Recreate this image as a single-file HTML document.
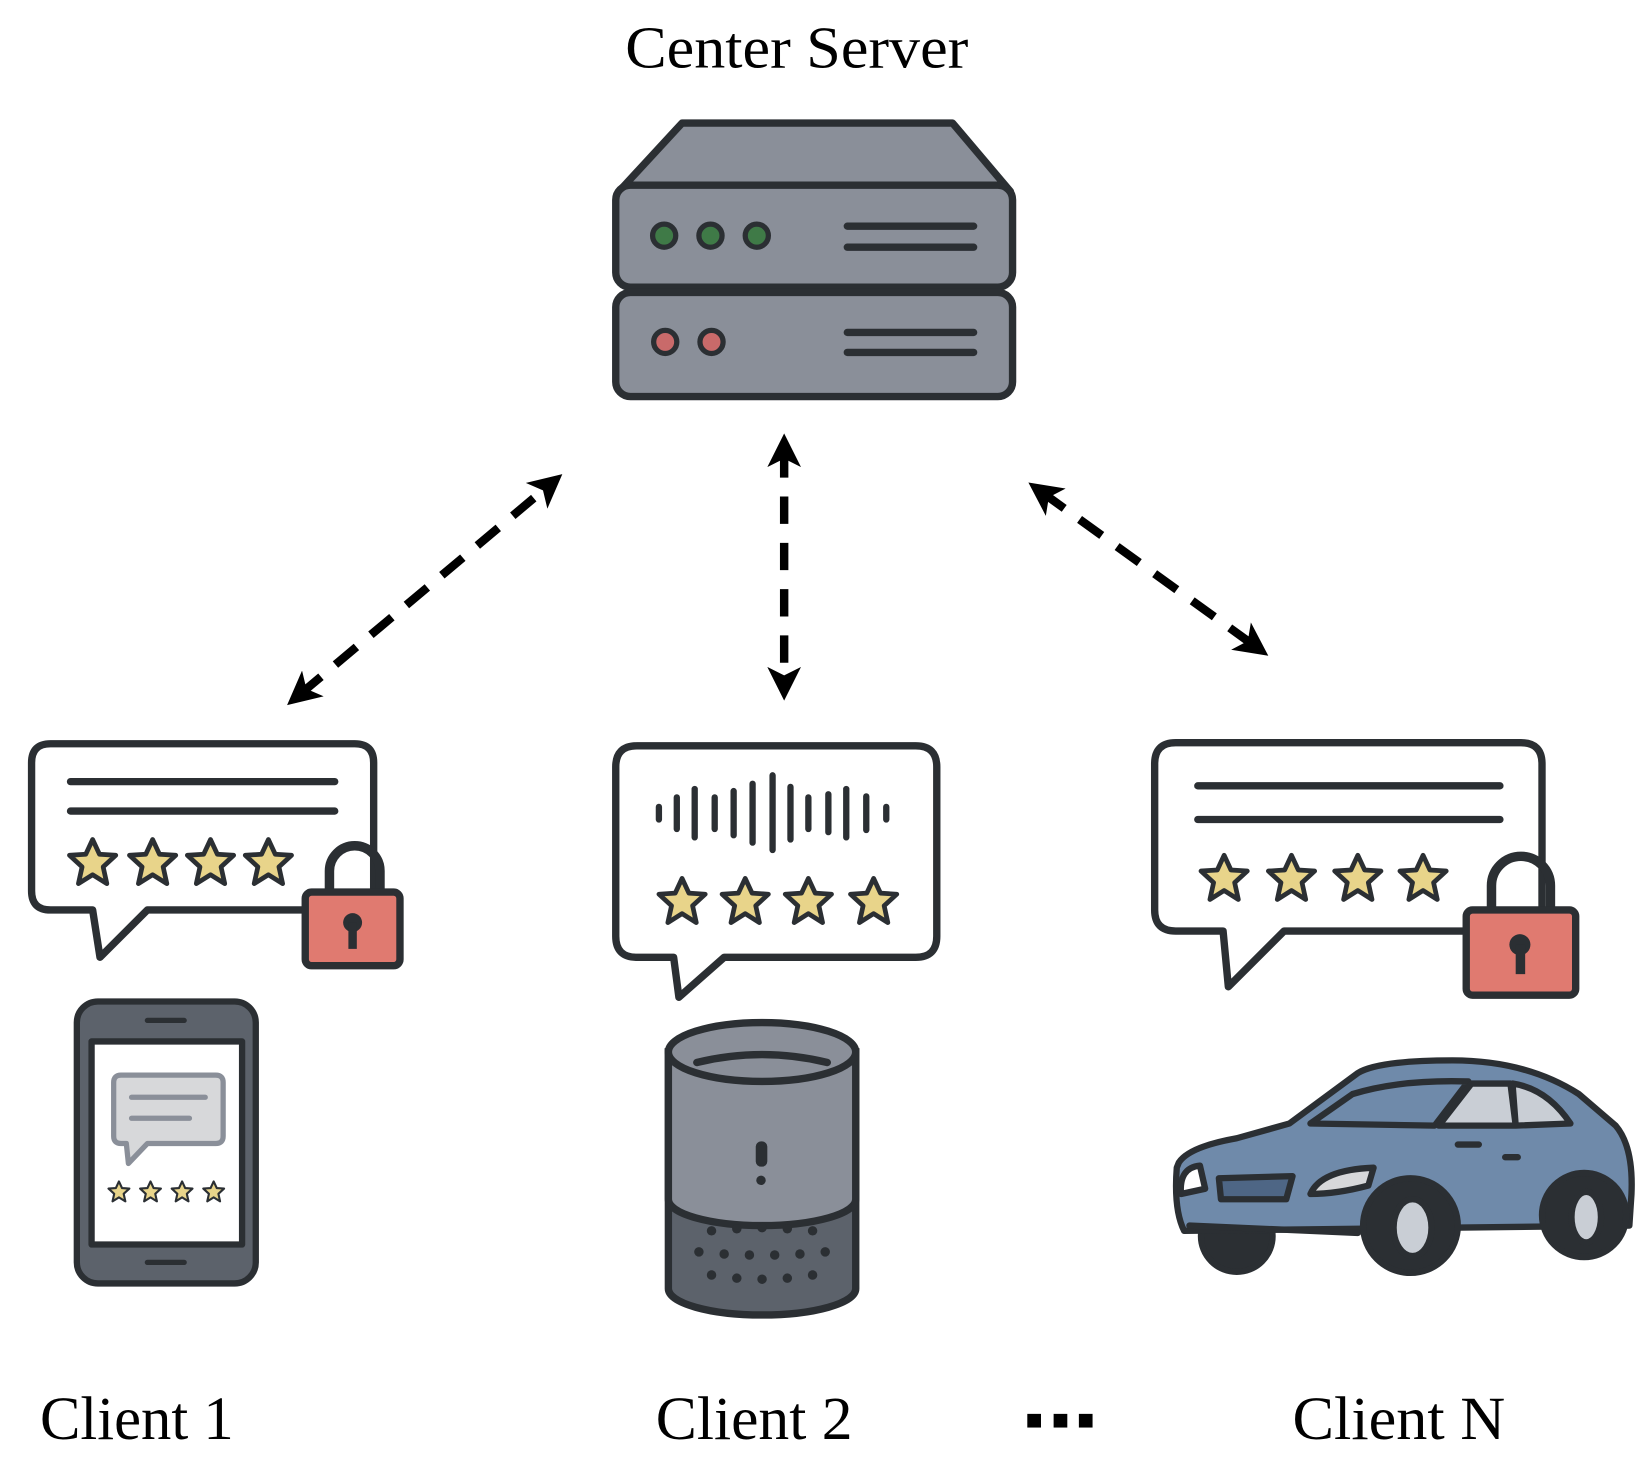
<!DOCTYPE html>
<html><head><style>html,body{margin:0;padding:0;background:#fff}svg{display:block}</style></head>
<body>
<svg width="1642" height="1457" viewBox="0 0 1560 1385" preserveAspectRatio="none" xmlns="http://www.w3.org/2000/svg">
<defs>
<marker id="ah" markerWidth="4" markerHeight="4" refX="2" refY="2" orient="auto-start-reverse" markerUnits="strokeWidth"><path d="M0,0 L4,2 L0,4 L1,2 Z" fill="#000"/></marker>
<polygon id="star" points="0,-22 6.5,-8 22,-7 10,4 13.5,20 0,11.5 -13.5,20 -10,4 -22,-7 -6.5,-8" fill="#e8d48a" stroke="#2b2f33" stroke-width="4.5" stroke-linejoin="round"/>
</defs>
<g font-family="Liberation Serif, serif" fill="#000">
<text x="594" y="64" font-size="56" textLength="326" lengthAdjust="spacingAndGlyphs">Center Server</text>
<text x="38" y="1368" font-size="58" textLength="184" lengthAdjust="spacingAndGlyphs">Client 1</text>
<text x="623" y="1368" font-size="58" textLength="187" lengthAdjust="spacingAndGlyphs">Client 2</text>
<text x="1228" y="1368" font-size="58" textLength="202" lengthAdjust="spacingAndGlyphs">Client N</text>
</g>
<rect x="976" y="1344" width="13" height="13"/><rect x="1001" y="1344" width="13" height="13"/><rect x="1025" y="1344" width="13" height="13"/>
<!-- server -->
<g stroke="#2b2f33" stroke-width="7" stroke-linejoin="round">
<path d="M588,182 L648,117 L905,117 L960,182 Z" fill="#8a8f99"/>
<rect x="585" y="176" width="377" height="97" rx="14" fill="#8a8f99"/>
<rect x="585" y="278" width="377" height="99" rx="14" fill="#8a8f99"/>
<g fill="#3f7a47" stroke-width="5"><circle cx="631" cy="224" r="11"/><circle cx="675" cy="224" r="11"/><circle cx="719" cy="224" r="11"/></g>
<g fill="#c96a6a" stroke-width="5"><circle cx="632" cy="325" r="11"/><circle cx="676" cy="325" r="11"/></g>
<path d="M805,215 H925 M805,235 H925 M805,316 H925 M805,335 H925" stroke-linecap="round"/>
</g>
<!-- arrows -->
<g stroke="#000" stroke-width="8" stroke-dasharray="26,18" fill="none">
<line x1="285" y1="660" x2="522" y2="461" marker-end="url(#ah)" marker-start="url(#ah)"/>
<line x1="745" y1="428" x2="745" y2="650" marker-end="url(#ah)" marker-start="url(#ah)"/>
<line x1="990" y1="468" x2="1192" y2="614" marker-end="url(#ah)" marker-start="url(#ah)"/>
</g>
<!-- bubble 1 -->
<g stroke="#2b2f33" stroke-width="7" stroke-linejoin="round" stroke-linecap="round">
<path d="M48,707 H337 Q355,707 355,725 V847 Q355,865 337,865 H140 L95,910 L88,865 H48 Q30,865 30,847 V725 Q30,707 48,707 Z" fill="#fff"/>
<path d="M67,743 H318 M67,771 H318"/>
<path d="M313,848 V828 A24,24 0 0 1 361,828 V848" fill="none" stroke-width="9"/>
<rect x="290" y="848" width="90" height="70" rx="6" fill="#e07a70"/>
</g>
<circle cx="335" cy="877" r="9" fill="#2b2f33"/><rect x="331" y="877" width="8" height="25" fill="#2b2f33"/>
<use href="#star" x="88" y="820"/><use href="#star" x="145" y="820"/><use href="#star" x="200" y="820"/><use href="#star" x="255" y="820"/>
<!-- bubble 2 -->
<g stroke="#2b2f33" stroke-width="7" stroke-linejoin="round" stroke-linecap="round">
<path d="M605,709 H870 Q890,709 890,729 V890 Q890,910 870,910 H688 L645,948 L640,910 H605 Q585,910 585,890 V729 Q585,709 605,709 Z" fill="#fff"/>
<path d="M626,767 V779 M643,758 V788 M660,750 V796 M679,758 V788 M697,752 V794 M715,745 V801 M734,737 V808 M751,748 V798 M768,758 V788 M787,755 V791 M804,750 V796 M823,757 V789 M842,767 V779" stroke-width="6"/>
</g>
<use href="#star" x="648" y="857"/><use href="#star" x="708" y="857"/><use href="#star" x="768" y="857"/><use href="#star" x="830" y="857"/>
<!-- bubble 3 -->
<g stroke="#2b2f33" stroke-width="7" stroke-linejoin="round" stroke-linecap="round">
<path d="M1117,706 H1445 Q1465,706 1465,726 V865 Q1465,885 1445,885 H1220 L1167,938 L1162,885 H1117 Q1097,885 1097,865 V726 Q1097,706 1117,706 Z" fill="#fff"/>
<path d="M1138,747 H1425 M1138,779 H1425"/>
<path d="M1417,865 V842 A28,28 0 0 1 1473,842 V865" fill="none" stroke-width="9"/>
<rect x="1393" y="865" width="104" height="81" rx="6" fill="#e07a70"/>
</g>
<circle cx="1444" cy="898" r="10" fill="#2b2f33"/><rect x="1440" y="898" width="9" height="28" fill="#2b2f33"/>
<use href="#star" x="1163" y="835"/><use href="#star" x="1227" y="835"/><use href="#star" x="1290" y="835"/><use href="#star" x="1352" y="835"/>
<!-- phone -->
<g stroke="#2b2f33" stroke-width="6" stroke-linejoin="round" stroke-linecap="round">
<rect x="73" y="952" width="170" height="268" rx="20" fill="#5c626b"/>
<rect x="87" y="990" width="143" height="193" fill="#fff"/>
<path d="M140,970 H175 M140,1200 H175" stroke-width="5"/>
<path d="M115,1022 H205 Q212,1022 212,1029 V1080 Q212,1087 205,1087 H140 L122,1106 L120,1087 H115 Q108,1087 108,1080 V1029 Q108,1022 115,1022 Z" fill="#d7d8da" stroke="#8a8f99" stroke-width="5"/>
<path d="M125,1043 H195 M125,1063 H180" stroke="#8a8f99" stroke-width="5"/>
</g>
<g transform="translate(113,1133) scale(0.45)"><use href="#star"/></g>
<g transform="translate(143,1133) scale(0.45)"><use href="#star"/></g>
<g transform="translate(173,1133) scale(0.45)"><use href="#star"/></g>
<g transform="translate(203,1133) scale(0.45)"><use href="#star"/></g>
<!-- speaker -->
<g stroke="#2b2f33" stroke-width="7">
<path d="M635,1000 V1225 A89,25 0 0 0 813,1225 V1000 Z" fill="#5c626b"/>
<path d="M635,1000 V1140 A89,25 0 0 0 813,1140 V1000 Z" fill="#8a8f99"/>
<ellipse cx="724" cy="1000" rx="89" ry="28" fill="#8a8f99"/>
<path d="M662,1010 Q724,995 786,1010" fill="none" stroke-linecap="round"/>
</g>
<rect x="718" y="1085" width="11" height="24" rx="5" fill="#2b2f33"/><circle cx="723" cy="1122" r="4.5" fill="#2b2f33"/>
<g fill="#2b2f33">
<circle cx="676" cy="1170" r="4.5"/><circle cx="700" cy="1168" r="4.5"/><circle cx="724" cy="1167" r="4.5"/><circle cx="748" cy="1168" r="4.5"/><circle cx="772" cy="1170" r="4.5"/>
<circle cx="664" cy="1190" r="4.5"/><circle cx="688" cy="1192" r="4.5"/><circle cx="712" cy="1193" r="4.5"/><circle cx="736" cy="1193" r="4.5"/><circle cx="760" cy="1192" r="4.5"/><circle cx="784" cy="1190" r="4.5"/>
<circle cx="676" cy="1212" r="4.5"/><circle cx="700" cy="1215" r="4.5"/><circle cx="724" cy="1216" r="4.5"/><circle cx="748" cy="1215" r="4.5"/><circle cx="772" cy="1212" r="4.5"/>
</g>
<!-- car -->
<g stroke="#2b2f33" stroke-width="6" stroke-linejoin="round" stroke-linecap="round">
<circle cx="1175" cy="1175" r="34" fill="#2b2f33"/>
<path d="M1120,1105 Q1130,1090 1175,1082 L1225,1068 L1290,1020 Q1310,1008 1380,1008 Q1450,1008 1500,1040 L1535,1070 Q1552,1090 1550,1135 L1548,1165 L1125,1170 Q1115,1150 1118,1110 Z" fill="#6f8aaa"/>
<path d="M1285,1040 L1245,1068 L1363,1070 L1395,1028 Q1330,1026 1285,1040 Z" fill="#6f8aaa"/>
<path d="M1367,1070 L1398,1030 L1435,1030 L1440,1070 Z M1440,1070 L1437,1030 Q1470,1035 1492,1068 Z" fill="#c9ced5"/>
<path d="M1122,1135 Q1120,1110 1140,1108 L1145,1130 Z" fill="#fff"/>
<path d="M1245,1135 Q1255,1112 1305,1110 L1300,1127 Q1270,1135 1245,1135 Z" fill="#d7d8da"/>
<path d="M1158,1120 L1228,1118 L1222,1140 L1160,1140 Z" fill="#4e6685"/>
<path d="M1130,1165 L1290,1172 M1385,1088 H1405 M1430,1100 H1442" fill="none"/>
<circle cx="1340" cy="1165" r="45" fill="#2b2f33"/><ellipse cx="1342" cy="1167" rx="18" ry="27" fill="#c9ced5"/>
<circle cx="1505" cy="1155" r="40" fill="#2b2f33"/><ellipse cx="1507" cy="1157" rx="14" ry="24" fill="#c9ced5"/>
</g>
</svg>
</body></html>
